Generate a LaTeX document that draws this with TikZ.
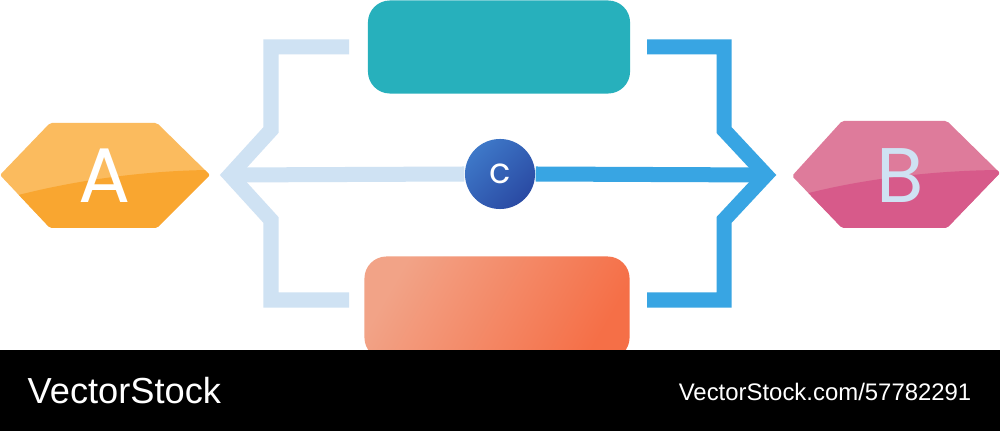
\documentclass[tikz,border=0pt]{standalone}
\usepackage{fontspec}
\setmainfont{Liberation Sans}
\newfontfamily\letterfont{Poppins}
\begin{document}
\begin{tikzpicture}[x=0.01cm,y=-0.01cm,
  lightline/.style={draw=lightblue,line width=0.15cm,line join=miter},
  darkline/.style={draw=brightblue,line width=0.15cm,line join=miter},
  bigletter/.style={font=\letterfont\fontsize{22}{22}\selectfont,inner sep=0pt},
  bandtext/.style={text=white,inner sep=0pt}]
\definecolor{lightblue}{HTML}{CFE2F3}
\definecolor{brightblue}{HTML}{38A5E3}
\definecolor{orangeA}{HTML}{FBBB5E}
\definecolor{orangeB}{HTML}{F9A630}
\definecolor{pinkA}{HTML}{DE7B9B}
\definecolor{pinkB}{HTML}{D75A8A}
\definecolor{teal}{HTML}{27B0BC}
\definecolor{salmonA}{HTML}{F2A387}
\definecolor{salmonB}{HTML}{F56F47}
\definecolor{circA}{HTML}{3E78C8}
\definecolor{circB}{HTML}{2A4AA3}
\useasboundingbox (0,0) rectangle (1000,431);
\fill[white] (0,0) rectangle (1000,431);

% hexagon A
\fill[orangeA,rounded corners=0.02cm] (0,175) -- (50,123) -- (157,123) -- (210,175) -- (157,228) -- (50,228) -- cycle;
\begin{scope}
\clip[rounded corners=0.02cm] (0,175) -- (50,123) -- (157,123) -- (210,175) -- (157,228) -- (50,228) -- cycle;
\fill[orangeB] (0,200) .. controls (70,180) and (150,170) .. (215,170) -- (215,240) -- (0,240) -- cycle;
\end{scope}
\node[bigletter,text=white] (A) at (105,176) {A};

% hexagon B
\fill[pinkA,rounded corners=0.02cm] (792,176) -- (842,121) -- (947,121) -- (1000,173) -- (947,228) -- (842,228) -- cycle;
\begin{scope}
\clip[rounded corners=0.02cm] (792,176) -- (842,121) -- (947,121) -- (1000,173) -- (947,228) -- (842,228) -- cycle;
\fill[pinkB] (790,198) .. controls (860,178) and (940,170) .. (1005,170) -- (1005,240) -- (790,240) -- cycle;
\end{scope}
\node[bigletter,text=lightblue] (B) at (900,176) {B};

% boxes
\node[fill=teal,rounded corners=0.22cm,minimum width=2.62cm,minimum height=0.93cm,inner sep=0pt] (top) at (499,47) {};
\node[rounded corners=0.22cm,minimum width=2.65cm,minimum height=1.03cm,inner sep=0pt,
  shading=axis,left color=salmonA,right color=salmonB,shading angle=60] (bottom) at (497,308) {};

% brackets
\coordinate (lt) at (349,47);
\coordinate (lb) at (349,300);
\coordinate (ltip) at (230,175);
\coordinate (rt) at (647,47);
\coordinate (rb) at (647,300);
\coordinate (rtip) at (766,175);
\draw[lightline] (lt) -- (271,47) -- (271,130) -- (ltip) -- (271,220) -- (271,300) -- (lb);
\draw[darkline] (rt) -- (724,47) -- (724,130) -- (rtip) -- (724,220) -- (724,300) -- (rb);

% circle C
\node[circle,minimum size=0.7cm,inner sep=0pt,shading=axis,left color=circA,right color=circB,shading angle=45] (C) at (500,174) {};
\draw[lightline] (ltip) -- (C.west);
\draw[darkline] (C.east) -- (rtip);
\node[text=white,font=\letterfont\fontsize{10}{10}\selectfont,inner sep=0pt] (cl) at (C) {c};

% bottom band
\fill[black] (0,350) rectangle (1000,431);
\node[bandtext,anchor=west,font=\fontsize{10.3}{10.3}\selectfont] (brand) at (27,391) {VectorStock};
\node[bandtext,anchor=east,font=\fontsize{6.8}{6.8}\selectfont] (url) at (972,392) {VectorStock.com/57782291};
\end{tikzpicture}
\end{document}
